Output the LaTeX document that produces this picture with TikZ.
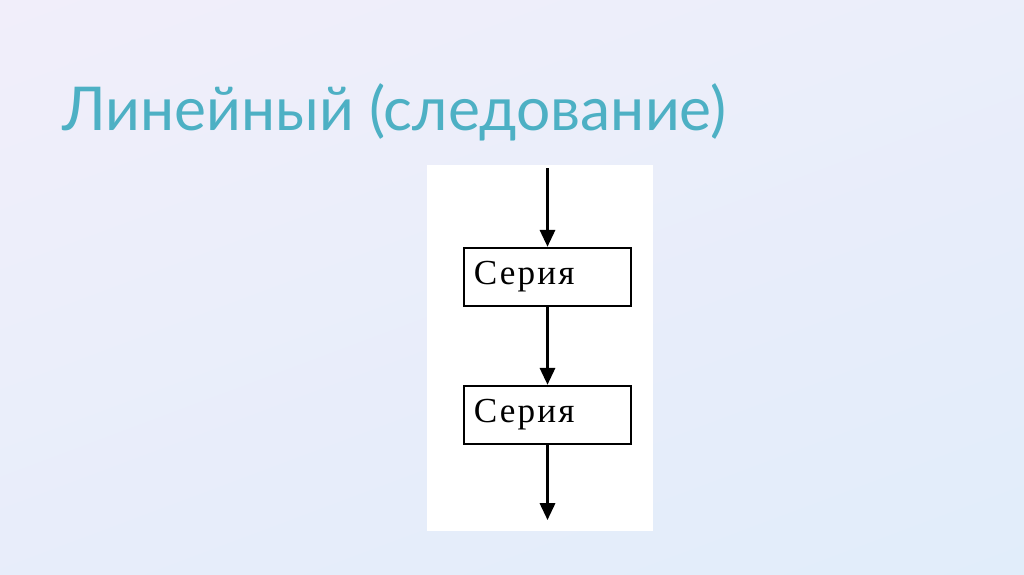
\documentclass[tikz,border=0pt]{standalone}
\usepackage{fontspec}
\setmainfont{Lato}
\newfontfamily\seriesfont[LetterSpace=6]{Liberation Serif}
\usetikzlibrary{arrows.meta,shadings}

\definecolor{bgtop}{HTML}{F1EEFA}
\definecolor{bgbottom}{HTML}{E1EDFA}
\definecolor{titleblue}{HTML}{4DB0C4}

\begin{document}
\begin{tikzpicture}[
    x=0.025cm,
    y=-0.025cm,
    series/.style={
        draw,
        line width=1.8pt,
        minimum height=1.45cm,
        text width=3.675cm,
        inner xsep=0.25cm,
        align=left,
        font=\seriesfont\fontsize{25}{28}\selectfont
    },
    flow/.style={
        -{Triangle[width=0.38cm,length=0.42cm]},
        line width=1.8pt
    },
    heading/.style={
        anchor=base west,
        inner sep=0pt,
        text=titleblue,
        font=\fontsize{43}{50}\selectfont
    }
]

\useasboundingbox (0,0) rectangle (1024,574);
\shade[upper left=bgtop, upper right=bgtop!60!bgbottom,
    lower left=bgtop!40!bgbottom, lower right=bgbottom]
    (0,0) rectangle (1024,574);

\node[heading] (title) at (62,130) {Линейный (следование)};

\fill[white] (427,165) rectangle (653,531);

\node[series] (serie1) at (547.5,277) {Серия};
\node[series] (serie2) at (547.5,415) {Серия};

\coordinate (start) at (547.5,168);
\coordinate (end) at (547.5,520);

\draw[flow] (start) -- (serie1);
\draw[flow] (serie1) -- (serie2);
\draw[flow] (serie2) -- (end);

\end{tikzpicture}
\end{document}
